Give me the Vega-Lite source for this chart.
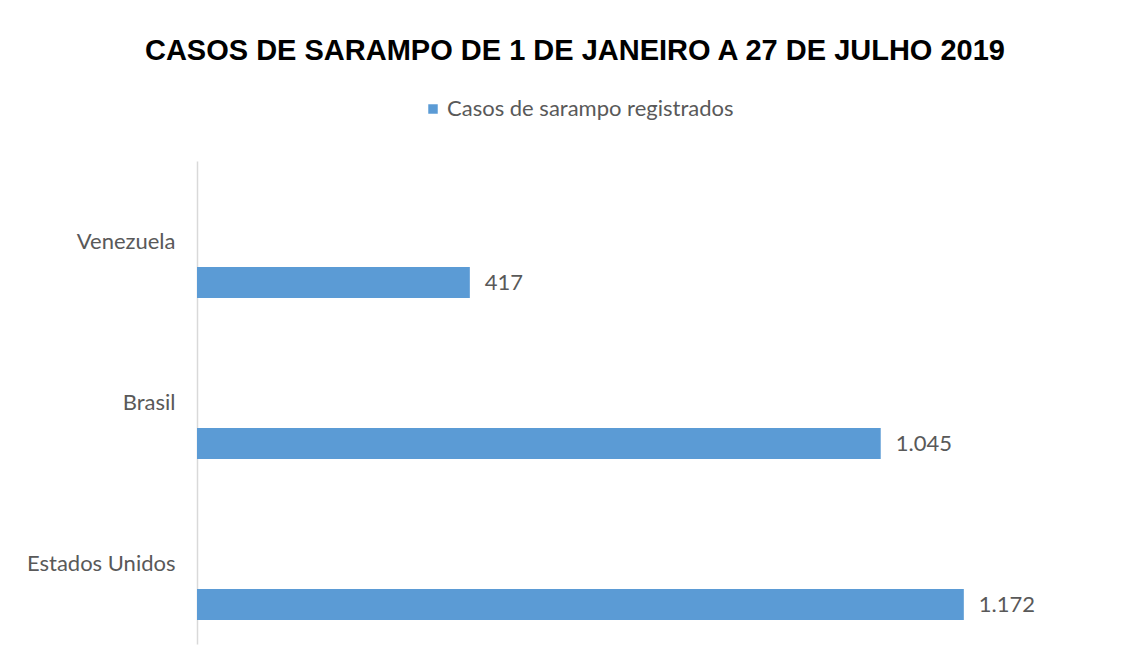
{
  "$schema": "https://vega.github.io/schema/vega-lite/v6.json",
  "autosize": "none",
  "width": 916,
  "height": 483,
  "padding": {"left": 197, "top": 161, "right": 18, "bottom": 24},
  "background": "white",
  "title": {
    "text": "CASOS DE SARAMPO DE 1 DE JANEIRO A 27 DE JULHO 2019",
    "anchor": "middle",
    "dx": -80,
    "offset": 32,
    "font": "Liberation Sans",
    "fontSize": 29,
    "fontWeight": "bold",
    "color": "#000000"
  },
  "config": {
    "view": {"stroke": null},
    "locale": {
      "number": {"decimal": ",", "thousands": ".", "grouping": [3], "currency": ["R$", ""]}
    }
  },
  "data": {
    "values": [
      {"pais": "Venezuela", "casos": 417, "serie": "Casos de sarampo registrados"},
      {"pais": "Brasil", "casos": 1045, "serie": "Casos de sarampo registrados"},
      {"pais": "Estados Unidos", "casos": 1172, "serie": "Casos de sarampo registrados"}
    ]
  },
  "encoding": {
    "y": {
      "field": "pais",
      "type": "nominal",
      "sort": ["Venezuela", "Brasil", "Estados Unidos"],
      "scale": {"paddingInner": 0, "paddingOuter": 0},
      "axis": {
        "title": null,
        "ticks": false,
        "domainColor": "#d9d9d9",
        "domainWidth": 1.5,
        "labelPadding": 22,
        "labelFont": "Lato",
        "labelFontSize": 22,
        "labelColor": "#595959",
        "labelLimit": 300,
        "grid": false
      }
    },
    "x": {
      "field": "casos",
      "type": "quantitative",
      "scale": {"domain": [0, 1400]},
      "axis": null
    }
  },
  "layer": [
    {
      "mark": {"type": "bar", "height": 31, "yOffset": 41},
      "encoding": {
        "color": {
          "field": "serie",
          "type": "nominal",
          "scale": {"range": ["#5B9BD5"]},
          "legend": {
            "title": null,
            "orient": "none",
            "legendX": 225,
            "legendY": -63,
            "symbolType": "square",
            "symbolSize": 90,
            "symbolStrokeWidth": 0,
            "labelFont": "Lato",
            "labelFontSize": 22,
            "labelColor": "#595959",
            "labelOffset": 3,
            "labelLimit": 500
          }
        }
      }
    },
    {
      "mark": {"type": "text", "align": "left", "baseline": "middle", "dx": 15, "yOffset": 41, "font": "Lato", "fontSize": 22, "color": "#595959"},
      "encoding": {
        "text": {"field": "casos", "type": "quantitative", "format": ",d"}
      }
    }
  ]
}
